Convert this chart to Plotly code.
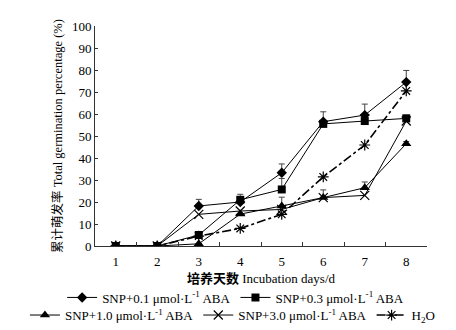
import plotly.graph_objects as go

days = ["1", "2", "3", "4", "5", "6", "7", "8"]
snp01 = [0, 0, 18.2, 20.0, 33.3, 56.5, 59.5, 74.5]
snp01_err = [0, 0, 3.0, 0, 4.0, 4.5, 5.0, 5.3]
snp03 = [0, 0, 5.0, 21.0, 25.7, 55.5, 56.8, 58.0]
snp03_err = [0, 0, 1.5, 2.5, 5.0, 0, 0, 1.5]
snp10 = [0, 0, 1.0, 14.5, 18.2, 22.0, 26.5, 46.5]
snp10_err = [0, 0, 0, 0, 4.0, 3.5, 2.6, 1.0]
snp30 = [0, 0, 14.4, 15.9, 16.6, 22.0, 23.0, 56.8]
h2o = [0, 0, 4.5, 8.0, 14.4, 31.4, 45.9, 70.5]
yticks = [0, 10, 20, 30, 40, 50, 60, 70, 80, 90, 100]

names = ["SNP+0.1 μmol·L<sup>-1</sup> ABA", "SNP+0.3 μmol·L<sup>-1</sup> ABA",
         "SNP+1.0 μmol·L<sup>-1</sup> ABA", "SNP+3.0 μmol·L<sup>-1</sup> ABA",
         "H<sub>2</sub>O"]

FONT = "Liberation Serif, Times New Roman, Noto Sans CJK SC, serif"

def err(vals):
    return dict(type="data", array=vals, arrayminus=[0] * len(vals), symmetric=False,
                color="#444", thickness=1, width=3)

fig = go.Figure()
fig.add_trace(go.Scatter(x=days, y=snp01, name=names[0], mode="lines+markers",
                         line=dict(color="black", width=1),
                         marker=dict(symbol="diamond", size=8, color="black"),
                         error_y=err(snp01_err), legend="legend"))
fig.add_trace(go.Scatter(x=days, y=snp03, name=names[1], mode="lines+markers",
                         line=dict(color="black", width=1),
                         marker=dict(symbol="square", size=8, color="black"),
                         error_y=err(snp03_err), legend="legend"))
fig.add_trace(go.Scatter(x=days, y=snp10, name=names[2], mode="lines+markers",
                         line=dict(color="black", width=1),
                         marker=dict(symbol="triangle-up", size=9, color="black"),
                         error_y=err(snp10_err), legend="legend2"))
fig.add_trace(go.Scatter(x=days, y=snp30, name=names[3], mode="lines+markers",
                         line=dict(color="black", width=1),
                         marker=dict(symbol="x-thin-open", size=9, color="black",
                                     line=dict(color="black", width=1.2)),
                         legend="legend2"))
fig.add_trace(go.Scatter(x=days, y=h2o, name=names[4], mode="lines+markers",
                         line=dict(color="black", width=1.6, dash="dashdot"),
                         marker=dict(symbol="asterisk-open", size=9, color="black",
                                     line=dict(color="black", width=1.2)),
                         legend="legend2"))

fig.update_layout(
    width=456, height=330,
    margin=dict(l=87, r=37, t=18, b=92, autoexpand=False),
    paper_bgcolor="white", plot_bgcolor="white",
    font=dict(family=FONT, size=13, color="black"),
    showlegend=True,
    legend=dict(orientation="h", x=-0.099, xanchor="left", y=-0.234, yanchor="middle",
                font=dict(size=13), itemwidth=30, bgcolor="rgba(0,0,0,0)"),
    legend2=dict(orientation="h", x=-0.211, xanchor="left", y=-0.314, yanchor="middle",
                 font=dict(size=13), itemwidth=30, bgcolor="rgba(0,0,0,0)"),
)

fig.update_xaxes(type="category", range=[-0.5, 7.5], tickson="boundaries",
                 ticks="inside", ticklen=4, tickcolor="#333", tickwidth=1,
                 showline=True, linecolor="#333", linewidth=1, showgrid=False,
                 zeroline=False, tickfont=dict(size=13), ticklabelstandoff=3,
                 title=dict(text="<b>培养天数</b> Incubation days/d", font=dict(size=13), standoff=6))
fig.update_yaxes(range=[0, 100], tickvals=yticks, ticks="inside", ticklen=3,
                 tickcolor="#333", tickwidth=1, showline=True, linecolor="#333",
                 linewidth=1, showgrid=False, zeroline=False, tickfont=dict(size=13),
                 title=dict(text="累计萌发率 Total germination percentage (%)",
                            font=dict(size=12.5), standoff=6))

fig.write_html("out.html")
